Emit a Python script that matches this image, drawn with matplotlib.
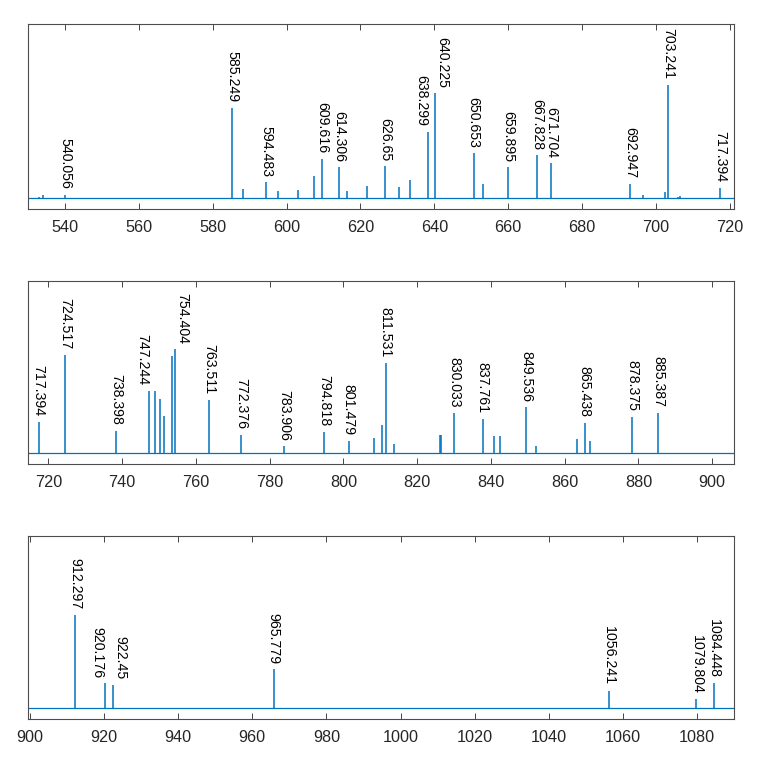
import matplotlib
matplotlib.use('Agg')
import matplotlib.pyplot as plt

plt.rcParams['font.family'] = ['Liberation Sans', 'DejaVu Sans']

# ---- data (wavelength in nm, relative intensity) ----
p1_wl = [533.08, 534.11, 540.056, 585.249, 588.19, 594.483, 597.553, 603.0, 607.434,
         609.616, 614.306, 616.359, 621.728, 626.65, 630.479, 633.443, 638.299, 640.225,
         650.653, 653.288, 659.895, 667.828, 671.704, 692.947, 696.543, 702.405, 703.241,
         705.911, 706.58, 717.394]
p1_int = [1.0, 3.0, 3.3, 89.3, 9.0, 15.6, 7.3, 8.0, 21.6,
          39.0, 30.6, 7.3, 12.3, 31.3, 10.6, 18.3, 66.0, 104.0,
          44.6, 14.3, 30.3, 42.3, 34.3, 14.3, 3.3, 5.6, 112.6,
          1.0, 2.3, 10.0]
p1_labels = [540.056, 585.249, 594.483, 609.616, 614.306, 626.65, 638.299, 640.225,
             650.653, 659.895, 667.828, 671.704, 692.947, 703.241, 717.394]

p2_wl = [717.394, 724.517, 738.398, 747.244, 748.887, 750.387, 751.465, 753.577, 754.404,
         763.511, 772.376, 783.906, 794.818, 801.479, 808.246, 810.369, 811.531, 813.641,
         826.324, 826.608, 830.033, 837.761, 840.821, 842.465, 849.536, 852.144, 863.465,
         865.438, 866.794, 878.375, 885.387]
p2_int = [31.0, 98.3, 22.3, 62.3, 62.3, 54.6, 37.0, 97.3, 104.0,
          53.0, 18.6, 6.6, 21.0, 12.0, 15.6, 28.0, 90.3, 8.6,
          18.3, 18.3, 40.6, 34.0, 17.3, 17.3, 46.0, 7.3, 14.0,
          30.3, 12.0, 36.6, 40.6]
p2_labels = [717.394, 724.517, 738.398, 747.244, 754.404, 763.511, 772.376, 783.906,
             794.818, 801.479, 811.531, 830.033, 837.761, 849.536, 865.438, 878.375, 885.387]

p3_wl = [912.297, 920.176, 922.45, 965.779, 1056.241, 1079.804, 1084.448]
p3_int = [93.3, 25.0, 23.3, 39.0, 17.3, 9.0, 25.0]
p3_labels = [912.297, 920.176, 922.45, 965.779, 1056.241, 1079.804, 1084.448]

p1_ticks = list(range(540, 721, 20))
p2_ticks = list(range(720, 901, 20))
p3_ticks = list(range(900, 1081, 20))

# ---- styling ----
blue = '#0072BD'
axcol = '#262626'
# labels nudged sideways to avoid overlap (style, not data)
side = {638.299: 'top', 640.225: 'bottom', 747.244: 'top', 754.404: 'bottom',
        920.176: 'top', 922.45: 'bottom'}

fig = plt.figure(figsize=(7.75, 7.77), dpi=100)
rects = [
    [28/775, 1-209/777, (734.3-28)/775, (209-24)/777],
    [28/775, 1-464/777, (734.3-28)/775, (464-280.7)/777],
    [28/775, 1-719.3/777, (734.3-28)/775, (719.3-535.7)/777],
]
panels = [
    (p1_wl, p1_int, p1_labels, p1_ticks, (530.0, 721.2)),
    (p2_wl, p2_int, p2_labels, p2_ticks, (714.5, 906.0)),
    (p3_wl, p3_int, p3_labels, p3_ticks, (899.5, 1090.0)),
]

for rect, (wl, inten, labs, ticks, xl) in zip(rects, panels):
    ax = fig.add_axes(rect)
    ax.axhline(0, color=blue, lw=0.9, zorder=2)
    ax.vlines(wl, 0, inten, color=blue, lw=1.1, zorder=2)
    lookup = dict(zip(wl, inten))
    for lab in labs:
        va = side.get(lab, 'center')
        ax.annotate(str(lab), xy=(lab, lookup[lab]), xytext=(0, 4.0),
                    textcoords='offset points', rotation=-90, rotation_mode='anchor',
                    ha='right', va=va, fontsize=10.2, color='black')
    ax.set_xlim(*xl)
    ax.set_ylim(-11, 173)
    ax.set_xticks(ticks)
    ax.set_yticks([])
    ax.tick_params(axis='x', direction='in', top=True, bottom=True, length=4.0,
                   width=0.6, colors=axcol, labelsize=11.7, pad=8)
    for s in ax.spines.values():
        s.set_color('#4d4d4d')
        s.set_linewidth(0.8)

fig.savefig('out.png', dpi=100)
